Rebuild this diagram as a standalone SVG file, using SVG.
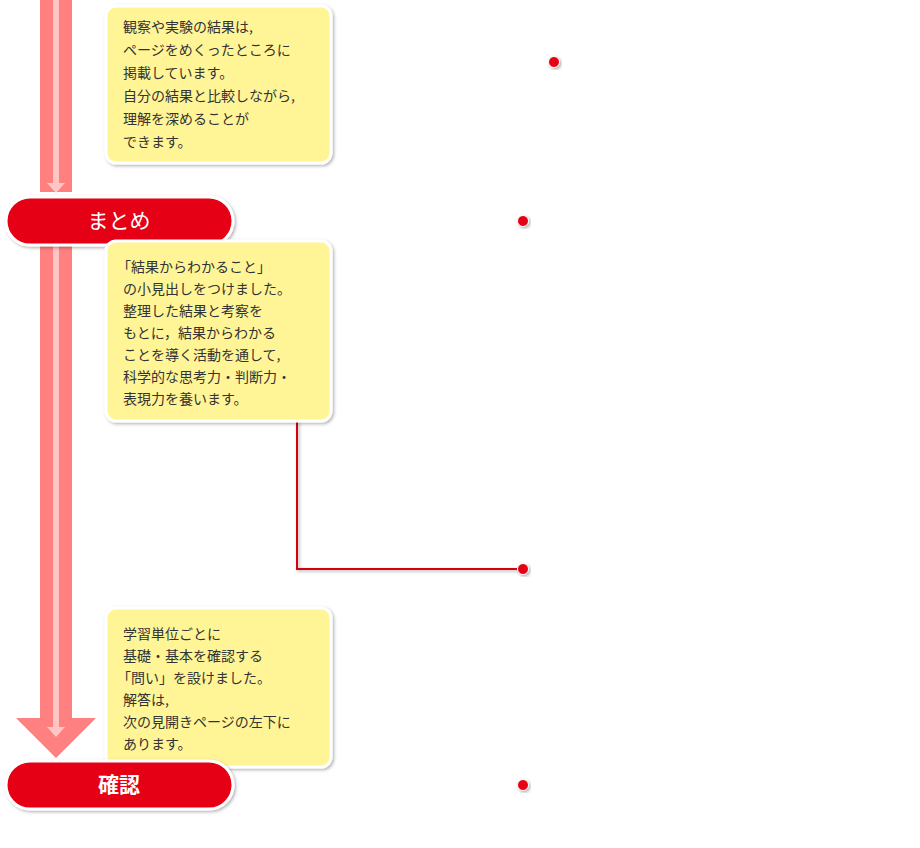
<svg xmlns="http://www.w3.org/2000/svg" width="920" height="848" viewBox="0 0 920 848">
<defs>
<filter id="sh" x="-10%" y="-10%" width="130%" height="130%"><feDropShadow dx="1.5" dy="1.5" stdDeviation="1.5" flood-color="#000" flood-opacity="0.3"/></filter>
<style>
.box{fill:#fff597;stroke:#fff;stroke-width:3;filter:url(#sh)}
.pill{fill:#e60012;stroke:#fff;stroke-width:3;filter:url(#sh)}
.t{font-family:"Noto Sans CJK JP",sans-serif;font-size:14px;fill:#333}
.pt{font-family:"Noto Sans CJK JP",sans-serif;font-size:21px;fill:#fff;text-anchor:middle}
.ln{fill:none;stroke:#d7000f;stroke-width:2;filter:url(#sh)}
.dot{fill:#e60012;stroke:#fff;stroke-width:1;filter:url(#sh)}
</style>
</defs>
<g id="flow">
<rect x="40" y="0" width="32" height="192" fill="#ff8080"/>
<rect x="53" y="0" width="6" height="184" fill="#ffc4c4"/>
<polygon points="47,183 65,183 56,193" fill="#ffc4c4"/>
<rect x="40" y="240" width="32" height="480" fill="#ff8080"/>
<polygon points="16,718 96,718 56,758" fill="#ff8080"/>
<rect x="53" y="240" width="6" height="488" fill="#ffc4c4"/>
<polygon points="47,727 65,727 56,737" fill="#ffc4c4"/>
</g>
<g id="connectors">
<polyline class="ln" points="331,62 554,62"/>
<circle class="dot" cx="554" cy="62" r="5.5"/>
<polyline class="ln" points="233,221 523,221"/>
<circle class="dot" cx="523" cy="221" r="5.5"/>
<polyline class="ln" points="297,421 297,569 523,569"/>
<circle class="dot" cx="523" cy="569" r="5.5"/>
<polyline class="ln" points="233,785 523,785"/>
<circle class="dot" cx="523" cy="785" r="5.5"/>
</g>
<g id="box1">
<rect class="box" x="106" y="6" width="225" height="157" rx="10"/>
<text class="t"><tspan x="123" y="32">観察や実験の結果は,</tspan><tspan x="123" y="55">ページをめくったところに</tspan><tspan x="123" y="78">掲載しています。</tspan><tspan x="123" y="101">自分の結果と比較しながら,</tspan><tspan x="123" y="124">理解を深めることが</tspan><tspan x="123" y="147">できます。</tspan></text>
</g>
<g id="matome">
<rect class="pill" x="6" y="197" width="227" height="48" rx="24"/>
<text class="pt" x="119" y="228">まとめ</text>
</g>
<g id="box2">
<rect class="box" x="106" y="241" width="225" height="180" rx="10"/>
<text class="t"><tspan x="117" y="272">「結果からわかること」</tspan><tspan x="123" y="294">の小見出しをつけました。</tspan><tspan x="123" y="316">整理した結果と考察を</tspan><tspan x="123" y="338">もとに，結果からわかる</tspan><tspan x="123" y="360">ことを導く活動を通して,</tspan><tspan x="123" y="382">科学的な思考力・判断力・</tspan><tspan x="123" y="404">表現力を養います。</tspan></text>
</g>
<g id="box3">
<rect class="box" x="106" y="608" width="225" height="159" rx="10"/>
<text class="t"><tspan x="123" y="639">学習単位ごとに</tspan><tspan x="123" y="661">基礎・基本を確認する</tspan><tspan x="117" y="683">「問い」を設けました。</tspan><tspan x="123" y="705">解答は,</tspan><tspan x="123" y="727">次の見開きページの左下に</tspan><tspan x="123" y="749">あります。</tspan></text>
</g>
<g id="kakunin">
<rect class="pill" x="6" y="761" width="227" height="48" rx="24"/>
<text class="pt" x="119" y="792" font-weight="bold">確認</text>
</g>
</svg>
